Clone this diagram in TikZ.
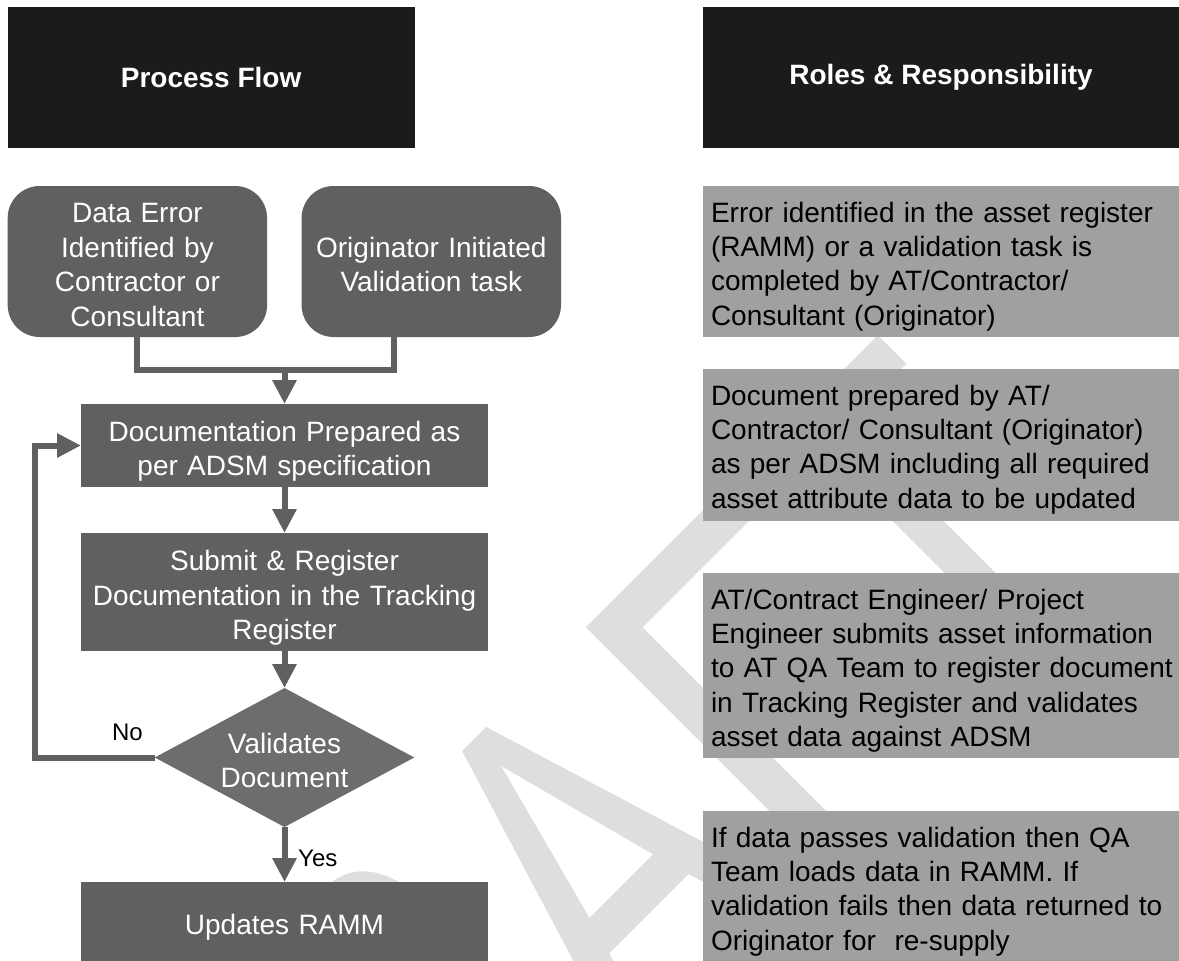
\documentclass[tikz,border=0pt]{standalone}
\usepackage{fontspec}
\setmainfont{Liberation Sans}
\usetikzlibrary{arrows.meta,shapes.geometric}
\definecolor{headblack}{HTML}{1B1B1B}
\definecolor{flowgray}{HTML}{606060}
\definecolor{decgray}{HTML}{6D6D6D}
\definecolor{rolegray}{HTML}{A0A0A0}
\definecolor{markgray}{HTML}{DEDEDE}

\begin{document}
\begin{tikzpicture}[x=1pt,y=-1pt,>={Triangle[width=23pt,length=24pt]},
    font=\fontsize{28}{34.4}\selectfont,
    headbox/.style={fill=headblack,text=white,font=\fontsize{28}{34.4}\selectfont\bfseries,minimum height=141pt,inner sep=0pt,outer sep=0pt},
    flowbox/.style={fill=flowgray,text=white,align=center,text width=400pt,text height=26pt,inner sep=0pt,outer sep=0pt,minimum width=407pt},
    startbox/.style={flowbox,text width=250pt,rounded corners=32pt,minimum width=259.4pt,minimum height=151pt},
    decbox/.style={diamond,aspect=1.867,fill=decgray,text=white,align=center,text width=130pt,text height=26pt,inner sep=0pt,outer sep=0pt,minimum width=259.5pt,minimum height=139pt},
    rolebox/.style={fill=rolegray,text=black,anchor=north west,align=left,text width=470pt,inner xsep=8pt,inner ysep=0pt,outer sep=0pt,text height=36pt},
    flowline/.style={draw=flowgray,line width=6pt},
    smalllab/.style={font=\fontsize{24}{28}\selectfont,inner sep=0pt}]
    \useasboundingbox (0,0) rectangle (1179,961);
    \fill[white] (0,0) rectangle (1179,961);
    % watermark letters, turned by 45 degrees
    \begin{scope}[shift={(474.2,739)},x={(0.7071pt,0.7071pt)},y={(-0.7071pt,0.7071pt)}]
        \fill[markgray,even odd rule] (-400,0) -- (-210,0) .. controls (-170,0) and (-150,-35) .. (-150,-85) -- (-150,-105) .. controls (-150,-150) and (-175,-180) .. (-215,-190) -- (-140,-358) -- (-185,-358) -- (-255,-195) -- (-360,-195) -- (-360,-358) -- (-400,-358) -- cycle
            (-360,-40) -- (-215,-40) .. controls (-195,-40) and (-190,-60) .. (-190,-90) -- (-190,-110) .. controls (-190,-140) and (-200,-155) .. (-215,-155) -- (-360,-155) -- cycle;
        \fill[markgray,even odd rule] (-17,0) -- (17,0) -- (127,-358) -- (90,-358) -- (56,-247) -- (-56,-247) -- (-90,-358) -- (-127,-358) -- cycle
            (0,-38) -- (45,-208) -- (-45,-208) -- cycle;
        \fill[markgray] (158,0) -- (355,0) -- (355,-40) -- (198,-40) -- (198,-165) -- (310,-165) -- (310,-203) -- (198,-203) -- (198,-358) -- (158,-358) -- cycle;
        \fill[markgray] (367,0) -- (571,0) -- (571,-40) -- (486,-40) -- (486,-358) -- (450,-358) -- (450,-40) -- (367,-40) -- cycle;
    \end{scope}
    % headings
    \node[headbox,minimum width=406.8pt] (pflow) at (211.1,77.5) {Process Flow};
    \node[headbox,minimum width=476pt] (roles) at (941,77.5) {Roles \& Responsibility};
    % process flow
    \node[startbox,text depth=103.2pt] (err) at (137.4,261.5) {Data Error\\Identified by\\Contractor or\\Consultant};
    \node[startbox,text depth=34.4pt] (orig) at (431.3,261.5) {Originator Initiated\\Validation task};
    \node[flowbox,text depth=34.4pt,minimum height=83pt] (prep) at (284.5,445.5) {Documentation Prepared as\\per ADSM specification};
    \node[flowbox,text depth=68.8pt,minimum height=118pt] (subm) at (284.5,592) {Submit \& Register\\Documentation in the Tracking\\Register};
    \node[decbox,text depth=34.4pt] (valid) at (284.5,757.5) {Validates\\Document};
    \node[flowbox,text depth=0pt,minimum height=79pt] (upd) at (284.5,921.5) {Updates RAMM};
    \node[smalllab] (nolab) at (127.5,732) {No};
    \node[smalllab,anchor=west] (yeslab) at (298,858) {Yes};
    \coordinate (jn) at (284.5,370);
    \coordinate (origout) at (394,337);
    \coordinate (back) at (35,757.5);
    \draw[flowline] (err.south) |- (jn) -| (origout);
    \draw[flowline,->] (jn) -- (prep);
    \draw[flowline,->] (prep) -- (subm);
    \draw[flowline,->] (subm) -- (valid);
    \draw[flowline,->] (valid) -- (upd);
    \draw[flowline,->] (valid.west) -- (back) |- (prep.west);
    % roles
    \node[rolebox,text depth=115pt] (r1) at (703,186) {Error identified in the asset register\\(RAMM) or a validation task is\\completed by AT/Contractor/\\Consultant (Originator)};
    \node[rolebox,text depth=116pt] (r2) at (703,369) {Document prepared by AT/\\Contractor/ Consultant (Originator)\\as per ADSM including all required\\asset attribute data to be updated};
    \node[rolebox,text depth=149pt] (r3) at (703,573) {AT/Contract Engineer/ Project\\Engineer submits asset information\\to AT QA Team to register document\\in Tracking Register and validates\\asset data against ADSM};
    \node[rolebox,text depth=150pt] (r4) at (703,811) {If data passes validation then QA\\Team loads data in RAMM. If\\validation fails then data returned to\\Originator for\ \ re-supply};
\end{tikzpicture}
\end{document}
